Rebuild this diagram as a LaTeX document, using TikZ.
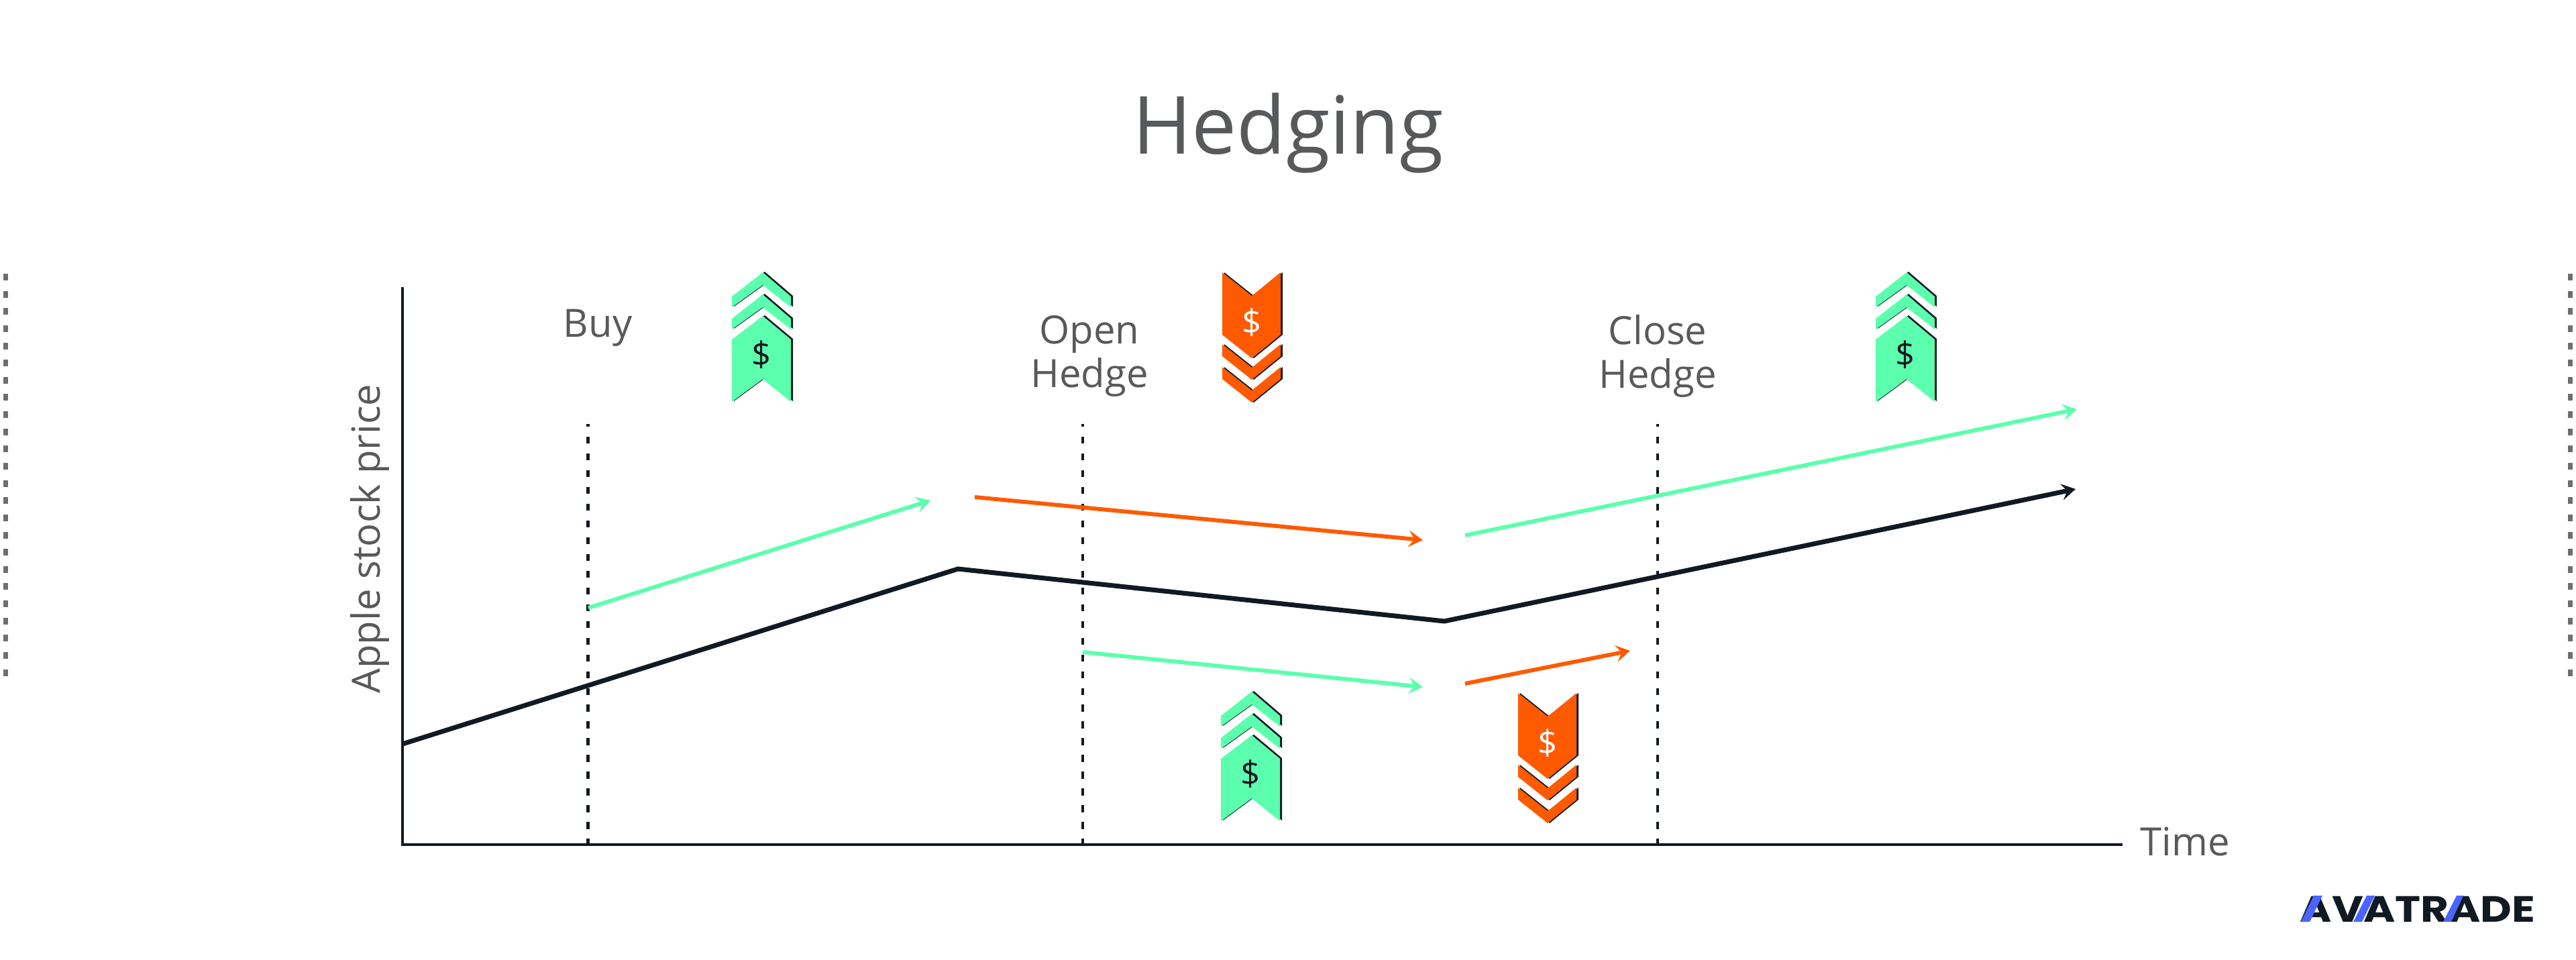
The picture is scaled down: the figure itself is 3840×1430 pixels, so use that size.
\documentclass[tikz,border=0pt]{standalone}
\usepackage{fontspec}
\setmainfont{Open Sans}
\newfontfamily\logofont{Poppins}[BoldFont={Poppins Bold}]
\usetikzlibrary{arrows.meta}

\definecolor{mintgreen}{HTML}{5CFFAD}
\definecolor{hedgeorange}{HTML}{FF5A00}
\definecolor{inkdark}{HTML}{111A22}
\definecolor{labelgrey}{HTML}{58595B}
\definecolor{sidegrey}{HTML}{6D6E71}
\definecolor{logoblue}{HTML}{4B64FF}

\tikzset{
	label text/.style={text=labelgrey, font=\fontsize{16.5}{18.4}\selectfont, align=center},
	stock line/.style={inkdark, line width=2pt, -{Stealth[length=6pt, width=7pt, inset=2.4pt]}},
	gain line/.style={mintgreen, line width=1.7pt, -{Stealth[length=6pt, width=7pt, inset=2.4pt]}},
	loss line/.style={hedgeorange, line width=1.7pt, -{Stealth[length=6pt, width=7pt, inset=2.4pt]}},
	marker line/.style={inkdark, line width=1.2pt, dash pattern=on 2.95pt off 4.15pt, dash phase=1.7pt},
	side line/.style={sidegrey, line width=2pt, dash pattern=on 2.85pt off 4.44pt},
	up stack/.pic={
		\foreach \off/\col in {0/inkdark, 1/mintgreen} {
			\begin{scope}[xshift=3*(1-\off)*0.01cm, yshift=(1-\off)*0.01cm]
				\fill [\col] (0,0) -- (42,36) -- (42,52) -- (0,19) -- (-46,52) -- (-46,36) -- cycle;
				\fill [\col] (0,33) -- (42,69) -- (42,85) -- (0,52) -- (-46,85) -- (-46,69) -- cycle;
				\fill [\col] (0,65) -- (42,100) -- (42,193) -- (0,159) -- (-46,193) -- (-46,100) -- cycle;
			\end{scope}
		}
		\node [text=inkdark, font=\fontsize{14.5}{16}\selectfont] at (-2,123) {\$};
	},
	down stack/.pic={
		\foreach \off/\col in {0/inkdark, 1/hedgeorange} {
			\begin{scope}[xshift=3*(1-\off)*0.01cm]
				\fill [\col] (-44,0) -- (0,35) -- (43,0) -- (43,93) -- (0,128) -- (-44,93) -- cycle;
				\fill [\col] (-44,107) -- (0,142) -- (43,107) -- (43,125) -- (0,160) -- (-44,125) -- cycle;
				\fill [\col] (-44,141) -- (0,176) -- (43,141) -- (43,159) -- (0,194) -- (-44,159) -- cycle;
			\end{scope}
		}
		\node [text=white, font=\fontsize{14.5}{16}\selectfont] at (0,75) {\$};
	},
}

\begin{document}
\begin{tikzpicture}[x=0.01cm, y=-0.01cm]
	\useasboundingbox (0,0) rectangle (3840,1430);

	\coordinate (Otop) at (600,428);
	\coordinate (O) at (600,1259);
	\coordinate (Xend) at (3164,1259);

	% stock price
	\coordinate (S0) at (600,1109);
	\coordinate (S1) at (1428,848);
	\coordinate (S2) at (2153,926);
	\coordinate (S3) at (3094,729);

	\coordinate (BuyA) at (877,906);
	\coordinate (BuyB) at (1387,746);
	\coordinate (HedgeA) at (1453,741);
	\coordinate (HedgeB) at (2121,805);
	\coordinate (AfterA) at (2184,798);
	\coordinate (AfterB) at (3096,610);
	\coordinate (ShortA) at (1614,972);
	\coordinate (ShortB) at (2121,1024);
	\coordinate (BackA) at (2184,1019);
	\coordinate (BackB) at (2430,970);

	\coordinate (M1) at (876.5,632);
	\coordinate (M2) at (1614,632);
	\coordinate (M3) at (2471,632);
	\coordinate (M1b) at (876.5,1259);
	\coordinate (M2b) at (1614,1259);
	\coordinate (M3b) at (2471,1259);

	\coordinate (LeftA) at (8.7,408);
	\coordinate (LeftB) at (8.7,1008);
	\coordinate (RightA) at (3831.5,408);
	\coordinate (RightB) at (3831.5,1008);

	\draw [side line] (LeftA) -- (LeftB);
	\draw [side line] (RightA) -- (RightB);

	\node (title) [text=labelgrey, font=\fontsize{34}{40}\selectfont] at (1920,198) {Hedging};

	\draw [marker line] (M1) -- (M1b);
	\draw [marker line] (M2) -- (M2b);
	\draw [marker line] (M3) -- (M3b);

	\draw [inkdark, line width=0.9pt] (Otop) -- (O) -- (Xend);

	\draw [stock line] (S0) -- (S1) -- (S2) -- (S3);
	\draw [gain line] (BuyA) -- (BuyB);
	\draw [loss line] (HedgeA) -- (HedgeB);
	\draw [gain line] (AfterA) -- (AfterB);
	\draw [gain line] (ShortA) -- (ShortB);
	\draw [loss line] (BackA) -- (BackB);

	\node (buy) [label text] at (891,489) {Buy};
	\node (open) [label text] at (1624,531) {Open\\Hedge};
	\node (close) [label text] at (2471,531) {Close\\Hedge};
	\node (time) [label text] at (3257,1254) {Time};
	\node (yaxis) [label text, rotate=90] at (551,803) {Apple stock price};

	\pic at (1137,406) {up stack};
	\pic at (1866,406) {down stack};
	\pic at (2842,406) {up stack};
	\pic at (1866,1031) {up stack};
	\pic at (2307,1033) {down stack};

	% logo
	\node (logo) [inkdark, font=\logofont\bfseries\fontsize{15.5}{18}\selectfont, inner sep=0pt, xscale=1.18] at (3604,1355) {AVATRADE};
	\fill [logoblue] (3430,1374) -- (3443,1374) -- (3462,1335) -- (3449,1335) -- cycle;
	\fill [logoblue] (3508,1374) -- (3521,1374) -- (3540,1335) -- (3528,1335) -- cycle;
	\fill [logoblue] (3642,1374) -- (3654,1374) -- (3672,1335) -- (3662,1335) -- cycle;
\end{tikzpicture}
\end{document}
